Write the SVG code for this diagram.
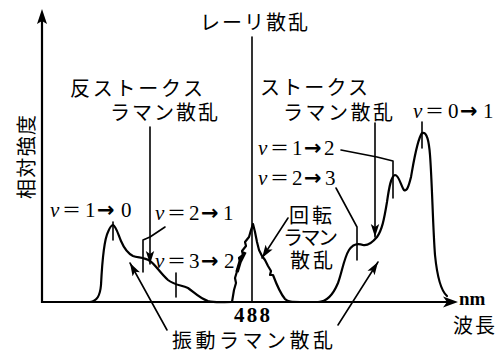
<svg xmlns="http://www.w3.org/2000/svg" width="504" height="353" viewBox="0 0 504 353">
<style>
.jp{font-family:"Noto Sans CJK JP","Noto Sans",sans-serif;font-size:20px;fill:#000}
.nu{font-family:"Liberation Serif","Times New Roman",serif;font-size:21px;fill:#000}
.nu .i{font-style:italic}
.nu .eq{font-family:"Noto Sans CJK JP",sans-serif;font-size:19px}
.nu .ar{font-family:"DejaVu Sans",sans-serif;font-weight:bold;font-size:21px}
.bd{font-family:"Liberation Serif","Times New Roman",serif;font-weight:bold;fill:#000}
.ln{fill:none;stroke:#000;stroke-width:1.6;stroke-linecap:round;stroke-linejoin:round}
.ax{fill:none;stroke:#000;stroke-width:2.2}
.cv{fill:none;stroke:#000;stroke-width:2.2;stroke-linejoin:round;stroke-linecap:round}
</style>
<defs>
<marker id="ah" markerUnits="userSpaceOnUse" markerWidth="16" markerHeight="12" refX="13" refY="5" orient="auto">
<path d="M0,0.8 L13,5 L0,9.2 L3,5 Z" fill="#000"/>
</marker>
</defs>
<rect width="504" height="353" fill="#fff"/>

<g id="axes">
<line class="ax" x1="42" y1="20" x2="42" y2="303"/>
<path d="M42,9 L47,24 L42,21 L37,24 Z" fill="#000"/>
<line class="ax" x1="41" y1="302" x2="448" y2="302"/>
<path d="M458,302 L443,296.5 L447,302 L443,307.5 Z" fill="#000"/>
</g>

<g id="spectrum">
<path class="cv" d="M44,302 L90,302 C97,301 100,296 101,285 C102,265 104,240 108,232 C110,227 112,225 113,225 C116,226 118,234 121,241 C124,248 127,253 133,256 C138,258 144,257 150,261 C155,264 160,273 168,280 C174,285 181,285 188,288 C194,292 199,298 208,301 C215,303 222,302 232,302"/>
<path class="cv" d="M232,302 L234,290 L236,283 L235,278 L238,268 L240,262 L239,258 L243,255 L242,251 L246,246 L245,242 L249,237 L251,230 L253,224 L255,232 L257,242 L259,250 L262,256 L265,260 L268,266 L271,271 L270,275 L273,275 C276,283 280,293 285,299 C288,302 292,302 300,302 L318,302 C326,302 333,295 338,283 C342,272 344,258 349,250 C353,244 358,243 363,245 C368,246 372,243 377,237 C382,230 384,220 387,202 C389,188 391,176 395,175 C399,175 401,186 404,190 C407,192 409,185 411,177 C414,160 417,140 422,133 C427,131 429,142 430,155 C432,180 433,230 435,255 C437,275 440,290 447,296"/>
<path d="M237,272 L240,262 L243,256 L245,252" fill="none" stroke="#000" stroke-width="3.5"/>
</g>

<g id="connectors">
<line class="ln" x1="252" y1="37" x2="252" y2="302" stroke-width="2"/>
<line class="ln" x1="150" y1="127" x2="150" y2="264" marker-end="url(#ah)"/>
<line class="ln" x1="375" y1="123" x2="375" y2="237" marker-end="url(#ah)"/>
<line class="ln" x1="113" y1="222" x2="113" y2="240"/>
<polyline class="ln" points="165,227 150,237 143,240 143,272"/>
<line class="ln" x1="176" y1="273" x2="176" y2="297"/>
<polyline class="ln" points="341,150 377,157 393,161 393,198"/>
<polyline class="ln" points="336,188 357,227 357,260"/>
<line class="ln" x1="422" y1="122" x2="422" y2="148"/>
<line class="ln" x1="288" y1="218" x2="262" y2="258" marker-end="url(#ah)"/>
<line class="ln" x1="167" y1="330" x2="130" y2="263" marker-end="url(#ah)"/>
<line class="ln" x1="338" y1="325" x2="378" y2="262" marker-end="url(#ah)"/>
</g>

<g id="ylabel"><text class="jp" transform="translate(34,157) rotate(-90)" text-anchor="middle" textLength="84">相対強度</text></g>
<g id="rayleigh"><text class="jp" x="200" y="30" textLength="108">レーリ散乱</text></g>
<g id="antistokes"><text class="jp" x="70" y="96" textLength="133">反ストークス</text><text class="jp" x="110" y="120" textLength="108">ラマン散乱</text></g>
<g id="stokes"><text class="jp" x="260" y="95" textLength="108">ストークス</text><text class="jp" x="283" y="120" textLength="110">ラマン散乱</text></g>
<g id="rotational"><text class="jp" x="289" y="223" font-size="19" textLength="43">回転</text><text class="jp" x="283" y="245" font-size="19" textLength="55">ラマン</text><text class="jp" x="290" y="268" font-size="19" textLength="43">散乱</text></g>
<g id="vibrational"><text class="jp" x="172" y="348" font-size="22" textLength="161">振動ラマン散乱</text></g>
<g id="wavelength"><text class="jp" x="453" y="333" font-size="21" textLength="42">波長</text></g>
<g id="nm"><text class="bd" x="459" y="305" font-size="19">nm</text></g>
<g id="x488"><text class="bd" x="234" y="322" font-size="21" textLength="36">488</text></g>
<g id="v10"><text class="nu" y="217"><tspan class="i" x="50">ν</tspan><tspan class="eq" x="62">＝</tspan><tspan x="85">1</tspan><tspan class="ar" x="97">→</tspan><tspan x="121">0</tspan></text></g>
<g id="v21"><text class="nu" y="220"><tspan class="i" x="155">ν</tspan><tspan class="eq" x="167">＝</tspan><tspan x="189">2</tspan><tspan class="ar" x="201">→</tspan><tspan x="223">1</tspan></text></g>
<g id="v32"><text class="nu" y="268"><tspan class="i" x="155">ν</tspan><tspan class="eq" x="167">＝</tspan><tspan x="189">3</tspan><tspan class="ar" x="201">→</tspan><tspan x="224">2</tspan></text></g>
<g id="v12"><text class="nu" y="155"><tspan class="i" x="258">ν</tspan><tspan class="eq" x="270">＝</tspan><tspan x="292">1</tspan><tspan class="ar" x="304">→</tspan><tspan x="324">2</tspan></text></g>
<g id="v23"><text class="nu" y="185"><tspan class="i" x="258">ν</tspan><tspan class="eq" x="270">＝</tspan><tspan x="292">2</tspan><tspan class="ar" x="304">→</tspan><tspan x="325">3</tspan></text></g>
<g id="v01"><text class="nu" y="118"><tspan class="i" x="413">ν</tspan><tspan class="eq" x="425">＝</tspan><tspan x="448">0</tspan><tspan class="ar" x="460">→</tspan><tspan x="483">1</tspan></text></g>
</svg>
